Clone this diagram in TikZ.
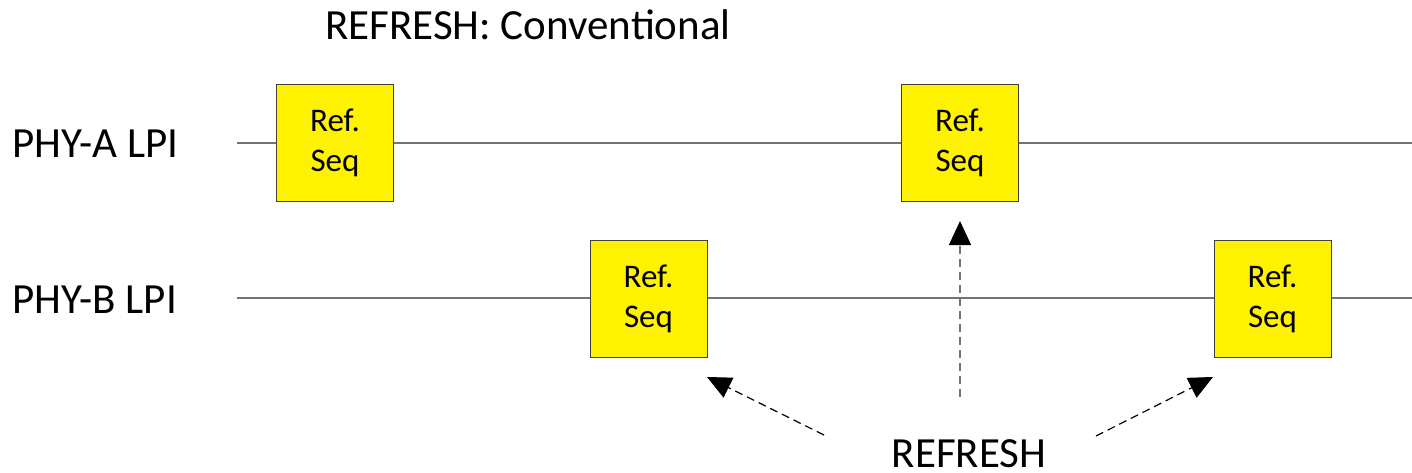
\documentclass[tikz,border=0pt]{standalone}
\usepackage{fontspec}
\setmainfont{Carlito}
\usetikzlibrary{arrows.meta}
\begin{document}
\begin{tikzpicture}[x=1pt,y=-1pt,
  big/.style={font=\fontsize{43}{50}\selectfont, inner sep=0pt},
  refbox/.style={draw=black!75, line width=0.8pt, fill=yellow, minimum width=117pt, minimum height=117pt, inner sep=0pt, align=center, font=\fontsize{33}{40}\selectfont},
  lpi/.style={draw=black!55, line width=1.4pt},
  refarrow/.style={line width=1.2pt, dash pattern=on 8pt off 5pt, -{Triangle[length=24pt,width=22pt,black]}}
]
\useasboundingbox (0,0) rectangle (1412,473);
% titles
\node[big, anchor=base west] (title) at (325,40) {REFRESH: Conventional};
\node[big, anchor=base west] (phyA) at (12,158) {PHY-A LPI};
\node[big, anchor=base west] (phyB) at (12,313) {PHY-B LPI};
% timelines
\coordinate (lA) at (237,143);
\coordinate (rA) at (1412,143);
\coordinate (lB) at (237,298);
\coordinate (rB) at (1412,298);
\draw[lpi] (lA) -- (rA);
\draw[lpi] (lB) -- (rB);
% refresh sequences
\node[refbox] (a1) at (335,143) {Ref.\\Seq};
\node[refbox] (a2) at (960,143) {Ref.\\Seq};
\node[refbox] (b1) at (648.5,298.5) {Ref.\\Seq};
\node[refbox] (b2) at (1272.5,298.5) {Ref.\\Seq};
% REFRESH label and arrows
\node[big, anchor=base] (refresh) at (969,467) {REFRESH};
\coordinate (tL) at (824,435);
\coordinate (hL) at (707,377);
\coordinate (tM) at (960,397);
\coordinate (hM) at (960,221);
\coordinate (tR) at (1096,436);
\coordinate (hR) at (1213,377);
\draw[refarrow, draw=black] (tL) -- (hL);
\draw[refarrow, draw=black!55] (tM) -- (hM);
\draw[refarrow, draw=black] (tR) -- (hR);
\end{tikzpicture}
\end{document}
